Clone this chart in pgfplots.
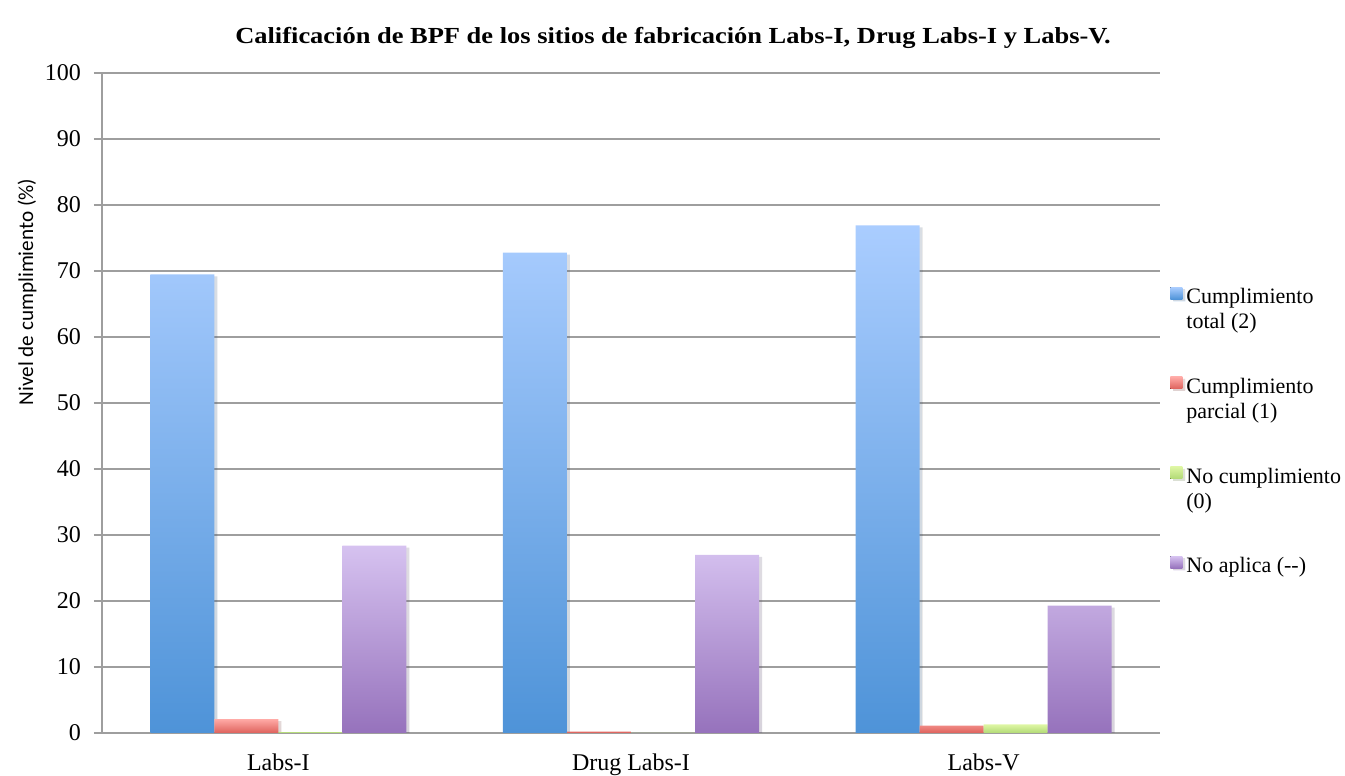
\documentclass[border=0pt]{standalone}
\usepackage{fontspec}
\setmainfont{Liberation Serif}
\newfontfamily\labelfont{Carlito}
\newfontfamily\titlefont[FakeStretch=1.15]{Liberation Serif}
\usepackage{pgfplots}
\pgfplotsset{compat=1.18}
\usetikzlibrary{shadows}

\definecolor{gridgray}{RGB}{158,158,158}
\definecolor{blueTop}{RGB}{170,205,255}
\definecolor{blueBot}{RGB}{78,147,216}
\definecolor{redTop}{RGB}{255,170,166}
\definecolor{redBot}{RGB}{222,98,92}
\definecolor{greenTop}{RGB}{222,246,164}
\definecolor{greenBot}{RGB}{178,218,118}
\definecolor{purpleTop}{RGB}{214,194,240}
\definecolor{purpleBot}{RGB}{150,114,188}

\tikzset{barshadow/.style={drop shadow={shadow xshift=1.5pt, shadow yshift=-1pt, opacity=0.12, fill=black}}}

\begin{document}
\begin{tikzpicture}
\begin{pgfinterruptboundingbox}
\begin{axis}[
  at={(0,0)}, anchor=south west,
  scale only axis, width=529pt, height=330pt,
  xmin=-0.5, xmax=2.5, ymin=0, ymax=100,
  axis lines=left,
  axis line style={-, draw=gridgray, line width=0.75pt},
  ytick={0,10,...,100},
  ymajorgrids, grid style={gridgray, line width=0.75pt},
  xtick={0,1,2},
  xticklabels={Labs-I,Drug Labs-I,Labs-V},
  x tick style={draw=none},
  extra x ticks={0.5,1.5,2.5},
  extra x tick labels={},
  extra x tick style={tick style={draw=gridgray, line width=0.75pt}, major tick length=5pt, grid=none},
  y tick style={draw=gridgray, line width=0.75pt},
  major tick length=4pt,
  tick align=outside,
  tick label style={font=\fontsize{12}{14}\selectfont},
  yticklabel style={xshift=-3pt},
  xticklabel style={yshift=-3pt},
  /pgf/number format/assume math mode=true,
  ylabel={\labelfont\fontsize{10.6}{12}\selectfont Nivel de cumplimiento (\%)},
  every axis y label/.style={at={(axis description cs:-0.0709,0.668)}, rotate=90, anchor=center},
  title={\titlefont\bfseries Calificación de BPF de los sitios de fabricación Labs-I, Drug Labs-I y Labs-V.},
  title style={font=\fontsize{11.5}{13}\selectfont, at={(axis description cs:0.5,1)}, anchor=base, xshift=21pt, yshift=8.5pt},
  ybar=0pt, bar width=32pt,
  legend style={at={(axis description cs:1,0.680)}, anchor=north west, xshift=5pt,
    draw=none, fill=none, inner sep=0pt, row sep=19.2pt,
    font=\fontsize{11}{12.5}\selectfont, cells={align=left}},
  legend cell align=left,
  legend image code/.code={\fill[#1, draw=none] (0pt,5.5pt) rectangle (6pt,11.5pt);},
]
\addplot[draw=none, top color=blueTop, bottom color=blueBot, barshadow]
  coordinates {(0,69.5) (1,72.8) (2,76.9)};
\addplot[draw=none, top color=redTop, bottom color=redBot, barshadow]
  coordinates {(0,2.1) (1,0.2) (2,1.1)};
\addplot[draw=none, top color=greenTop, bottom color=greenBot, barshadow]
  coordinates {(0,0.15) (1,0) (2,1.3)};
\addplot[draw=none, top color=purpleTop, bottom color=purpleBot, barshadow]
  coordinates {(0,28.4) (1,27.0) (2,19.3)};
\legend{{Cumplimiento\\total (2)},{Cumplimiento\\parcial (1)},{No cumplimiento\\(0)},{No aplica (-{}-)\\\mbox{}}}
\end{axis}
\end{pgfinterruptboundingbox}
\path[use as bounding box] (-51pt,-21.5pt) rectangle (621.5pt,366.5pt);
\end{tikzpicture}
\end{document}
